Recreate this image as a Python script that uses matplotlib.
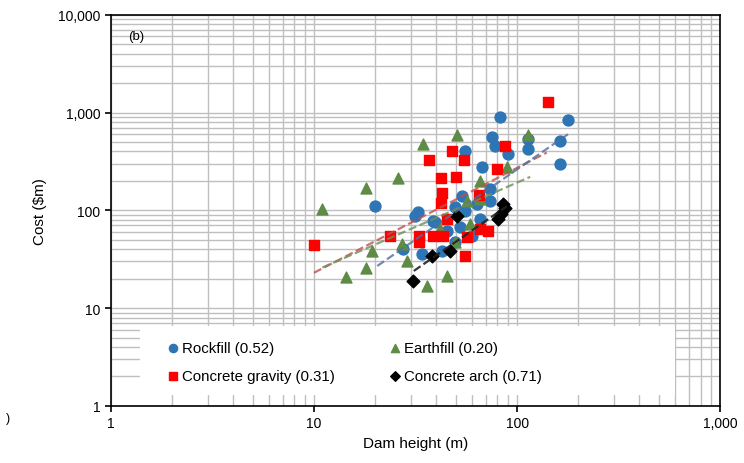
import matplotlib
matplotlib.use("Agg")
import matplotlib.pyplot as plt
from matplotlib.patches import Rectangle
from matplotlib.ticker import FixedLocator, FixedFormatter, LogLocator, NullFormatter

plt.rcParams['font.family'] = ['Liberation Sans', 'DejaVu Sans']

# data (height m, cost $m)
rock_h = [20, 27.5, 31.5, 32.6, 34, 38.6, 39.5, 42.5, 49.5, 49.5, 52.5, 53.5, 55.6, 55.6,
          63.5, 66, 67, 73.5, 73.5, 75, 77.8, 82, 90, 113, 113, 163, 163, 178, 45, 60]
rock_c = [112, 40, 88, 97, 36, 78, 76, 38, 109, 48, 68, 140, 99, 405,
          117, 82, 280, 125, 165, 565, 450, 910, 380, 540, 425, 515, 300, 830, 62, 55]

earth_h = [11, 14.3, 18, 18, 19.3, 26, 27, 28.7, 34.5, 36, 45, 50.6, 57, 58.5, 66, 89, 113, 49.5, 66, 41.8]
earth_c = [104, 21, 170, 26, 38, 216, 45, 30.6, 480, 17, 21.4, 595, 125, 73, 200, 280, 590, 48, 131, 65]

grav_h = [10, 23.7, 33, 33, 36.8, 38.6, 42, 42.5, 42, 43, 45, 47.7, 50, 54.7, 55.6, 57,
          65, 66, 72, 79.7, 87.5, 142]
grav_c = [44, 55, 55, 48, 330, 55, 215, 150, 120, 55, 82, 400, 220, 330, 34, 54,
          145, 65, 62, 265, 460, 1270]

arch_h = [30.7, 38, 47, 50.6, 81, 85, 87, 83]
arch_c = [19, 34, 38, 88, 82, 117, 105, 92]

# trendline end points
rock_fit_h, rock_fit_c = [20.5, 178], [27, 600]
earth_fit_h, earth_fit_c = [11, 116], [26, 220]
grav_fit_h, grav_fit_c = [10, 140], [23, 390]
arch_fit_h, arch_fit_c = [31, 89], [24, 110]

blue = '#2E75B6'
green = '#5E8B45'
red = '#FF0000'
black = '#000000'

fig = plt.figure(figsize=(7.44, 4.64), dpi=100)
ax = fig.add_axes([0.149, 0.123, 0.819, 0.843])
ax.set_xscale('log')
ax.set_yscale('log')
ax.set_xlim(1, 1000)
ax.set_ylim(1, 10000)

ax.grid(True, which='both', color='#BFBFBF', linewidth=1.0, zorder=0)
ax.set_axisbelow(True)

h_rock = ax.scatter(rock_h, rock_c, s=62, marker='o', color=blue, zorder=3, label='Rockfill (0.52)')
h_earth = ax.scatter(earth_h, earth_c, s=62, marker='^', color=green, zorder=3, label='Earthfill (0.20)')
h_grav = ax.scatter(grav_h, grav_c, s=58, marker='s', color=red, zorder=4, label='Concrete gravity (0.31)')
h_arch = ax.scatter(arch_h, arch_c, s=42, marker='D', color=black, zorder=5, label='Concrete arch (0.71)')

ax.plot(grav_fit_h, grav_fit_c, '--', color='#C0504D', lw=1.6, alpha=0.8, zorder=6)
ax.plot(rock_fit_h, rock_fit_c, '--', color='#4F6F9F', lw=1.6, alpha=0.8, zorder=6)
ax.plot(earth_fit_h, earth_fit_c, '--', color='#6E8F5A', lw=1.6, alpha=0.8, zorder=6)
ax.plot(arch_fit_h, arch_fit_c, '--', color='#222222', lw=1.6, alpha=0.9, zorder=6)

ax.xaxis.set_major_locator(FixedLocator([1, 10, 100, 1000]))
ax.xaxis.set_major_formatter(FixedFormatter(['1', '10', '100', '1,000']))
ax.yaxis.set_major_locator(FixedLocator([1, 10, 100, 1000, 10000]))
ax.yaxis.set_major_formatter(FixedFormatter(['1', '10', '100', '1,000', '10,000']))
ax.xaxis.set_minor_locator(LogLocator(base=10, subs=range(2, 10)))
ax.yaxis.set_minor_locator(LogLocator(base=10, subs=range(2, 10)))
ax.xaxis.set_minor_formatter(NullFormatter())
ax.yaxis.set_minor_formatter(NullFormatter())
ax.tick_params(which='major', direction='out', length=4, width=1.2, labelsize=10, colors='black')
ax.tick_params(which='minor', length=0)
for sp in ax.spines.values():
    sp.set_color('black')
    sp.set_linewidth(1.2)

ax.set_xlabel('Dam height (m)', fontsize=11)
ax.set_ylabel('Cost (\\$m)', fontsize=11, labelpad=8)
ax.text(0.028, 0.96, '(b)', transform=ax.transAxes, fontsize=9.5, va='top', ha='left')

# white legend box
ax.add_patch(Rectangle((0.048, 0.028), 0.878, 0.177, transform=ax.transAxes,
                       facecolor='white', edgecolor='none', zorder=9))
leg = ax.legend(handles=[h_rock, h_grav, h_earth, h_arch], ncol=2, loc='center left',
                bbox_to_anchor=(0.067, 0.113), frameon=False,
                fontsize=10.8, markerscale=0.75, handletextpad=0.1,
                handlelength=1.0, labelspacing=0.95, columnspacing=3.5, scatterpoints=1)
leg.set_zorder(10)

fig.text(0.008, 0.09, ')', fontsize=9)

fig.savefig('out.png', dpi=100)
